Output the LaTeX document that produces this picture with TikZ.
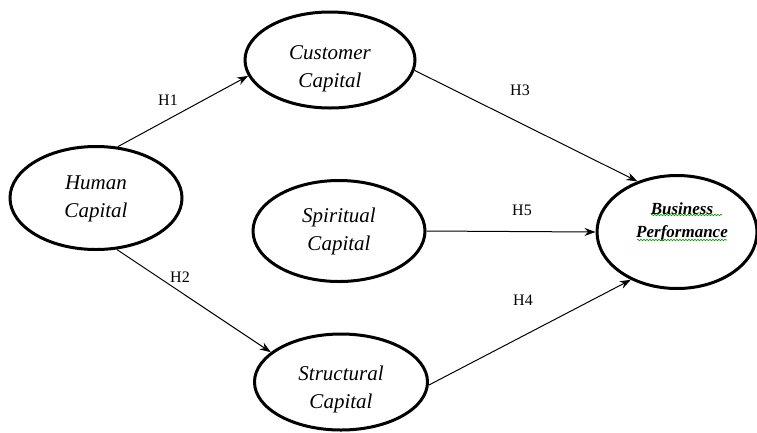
\documentclass[tikz,border=0pt]{standalone}
\usepackage{fontspec}
\setmainfont{Liberation Serif}
\usetikzlibrary{shapes.geometric,arrows.meta,decorations.pathmorphing}
\newcommand{\twoline}[3]{\raisebox{#1}[\height][\depth]{\begin{tabular}{@{}c@{}}#2\\#3\end{tabular}}}
\tikzset{
  construct/.style={ellipse, draw, line width=3pt, inner sep=0pt, align=center,
    font=\fontsize{21}{28}\selectfont\itshape},
  link/.style={line width=1pt, -{Stealth[length=11pt,width=8pt]}},
  hyp/.style={font=\fontsize{16}{18}\selectfont},
  squiggle/.style={draw=green!60!black, line width=0.6pt,
    decorate, decoration={snake, amplitude=0.8pt, segment length=3pt}}
}
\begin{document}
\begin{tikzpicture}[x=1pt,y=-1pt]
\useasboundingbox (0,0) rectangle (757,432);
\node[construct, minimum width=172pt, minimum height=103pt] (human) at (96,198) {\twoline{0pt}{Human}{Capital}};
\node[construct, minimum width=170pt, minimum height=96pt] (cust) at (330,60) {\twoline{-8pt}{Customer}{Capital}};
\node[construct, minimum width=172pt, minimum height=101pt] (spir) at (339,231) {\twoline{0pt}{Spiritual}{Capital}};
\node[construct, minimum width=173pt, minimum height=96pt] (struc) at (341,382) {\twoline{-7pt}{Structural}{Capital}};
\node[construct, minimum width=160pt, minimum height=113pt,
  font=\fontsize{17}{23}\selectfont\bfseries\itshape] (bus) at (677,232) {\hspace*{10pt}\twoline{11pt}{Business}{Performance}};
\draw[link] (human.67) -- (cust.191);
\draw[link] (human.292) -- (struc.157);
\draw[link] (cust.353) -- (bus.128);
\draw[link] (spir.east) -- (bus.west);
\draw[link] (struc.358) -- (bus.226);
\node[hyp] (h1) at (168,100) {H1};
\node[hyp] (h2) at (180,277) {H2};
\node[hyp] (h3) at (520,90) {H3};
\node[hyp] (h5) at (522,210) {H5};
\node[hyp] (h4) at (523,300) {H4};
\coordinate (s1a) at (651,215); \coordinate (s1b) at (722,215);
\coordinate (s2a) at (637,240); \coordinate (s2b) at (727,240);
\draw[squiggle] (s1a) -- (s1b);
\draw[squiggle] (s2a) -- (s2b);
\end{tikzpicture}
\end{document}
